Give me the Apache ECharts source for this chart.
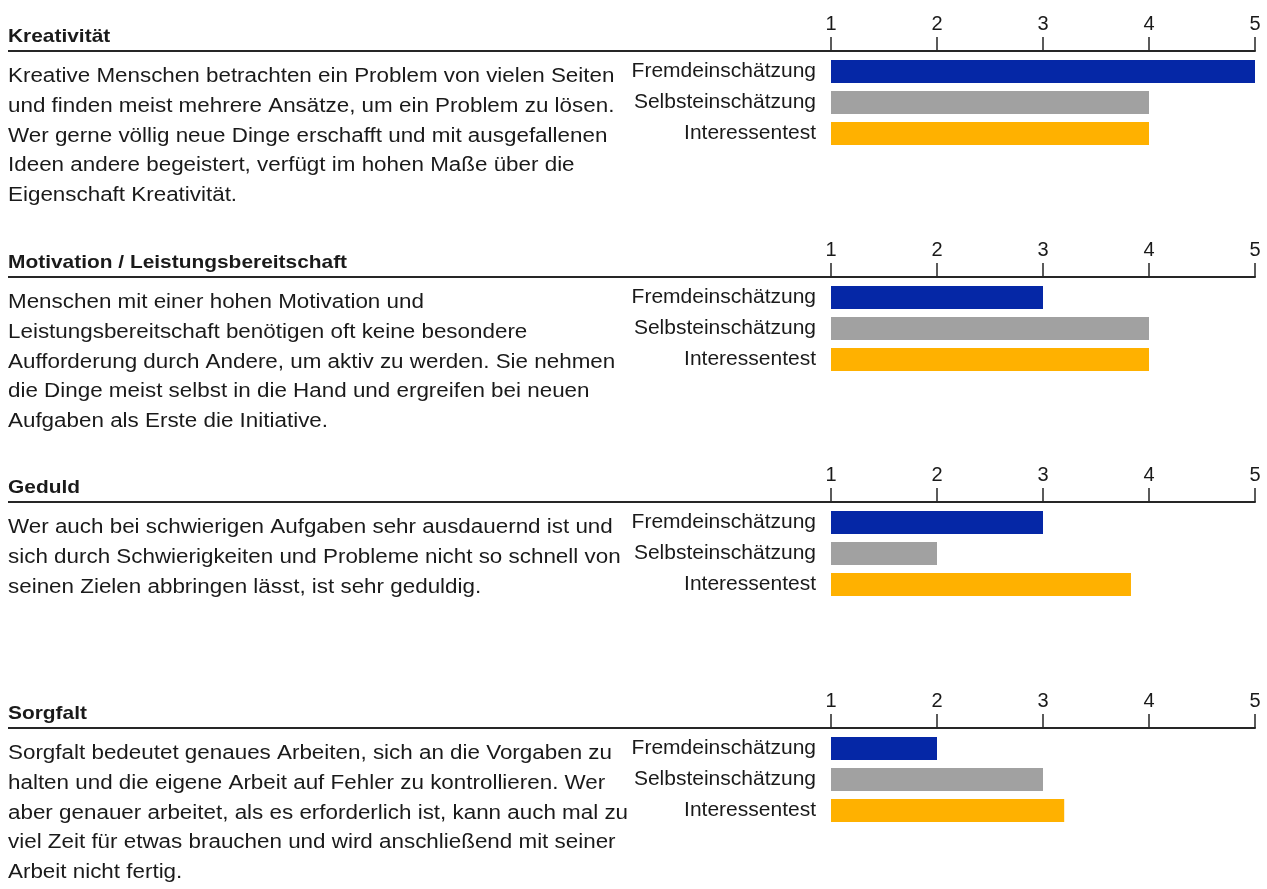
<!DOCTYPE html>
<html>
<head>
<meta charset="utf-8">
<script src="https://cdn.jsdelivr.net/npm/echarts@6/dist/echarts.min.js"></script>
<style>
html,body{margin:0;padding:0;background:#fff;}
#chart{width:1267px;height:889px;}
</style>
</head>
<body>
<div id="chart"></div>
<script>
// ---- data ----
const categories = ['Fremdeinschätzung', 'Selbsteinschätzung', 'Interessentest'];
const titles = ['Kreativität', 'Motivation / Leistungsbereitschaft', 'Geduld', 'Sorgfalt'];
const descriptions = [
  ['Kreative Menschen betrachten ein Problem von vielen Seiten',
   'und finden meist mehrere Ansätze, um ein Problem zu lösen.',
   'Wer gerne völlig neue Dinge erschafft und mit ausgefallenen',
   'Ideen andere begeistert, verfügt im hohen Maße über die',
   'Eigenschaft Kreativität.'],
  ['Menschen mit einer hohen Motivation und',
   'Leistungsbereitschaft benötigen oft keine besondere',
   'Aufforderung durch Andere, um aktiv zu werden. Sie nehmen',
   'die Dinge meist selbst in die Hand und ergreifen bei neuen',
   'Aufgaben als Erste die Initiative.'],
  ['Wer auch bei schwierigen Aufgaben sehr ausdauernd ist und',
   'sich durch Schwierigkeiten und Probleme nicht so schnell von',
   'seinen Zielen abbringen lässt, ist sehr geduldig.'],
  ['Sorgfalt bedeutet genaues Arbeiten, sich an die Vorgaben zu',
   'halten und die eigene Arbeit auf Fehler zu kontrollieren. Wer',
   'aber genauer arbeitet, als es erforderlich ist, kann auch mal zu',
   'viel Zeit für etwas brauchen und wird anschließend mit seiner',
   'Arbeit nicht fertig.']
];
const kreativitaet = [5, 4, 4];
const motivation = [3, 4, 4];
const geduld = [3, 2, 3.83];
const sorgfalt = [2, 3, 3.2];
const sectionValues = [kreativitaet, motivation, geduld, sorgfalt];
const tickMin = 1, tickMax = 5;

// ---- layout / style ----
const colors = ['#0527A6', '#A1A1A1', '#FFB100'];
const font = '"Liberation Sans", Arial, sans-serif';
const ink = '#1a1a1a';
const lineYs = [51, 277, 502, 728];
const axisOffset = 5;

const grids = [], xAxes = [], yAxes = [], series = [], graphics = [];
lineYs.forEach((ly, i) => {
  grids.push({ left: 831, right: 12, top: ly + axisOffset, height: 93, containLabel: false });
  xAxes.push({
    gridIndex: i, type: 'value', position: 'top', offset: axisOffset,
    min: tickMin, max: tickMax, interval: 1, startValue: tickMin,
    axisLine: { show: true, lineStyle: { color: '#262626', width: 2 } },
    axisTick: { show: true, length: 14, lineStyle: { color: '#262626', width: 1.5 } },
    axisLabel: { show: true, margin: 17, fontSize: 20, color: ink, fontFamily: font },
    splitLine: { show: false }
  });
  yAxes.push({
    gridIndex: i, type: 'category', data: categories, inverse: true,
    axisLine: { show: false }, axisTick: { show: false },
    axisLabel: { margin: 15, fontSize: 21, color: ink, fontFamily: font, padding: [0, 0, 4, 0] }
  });
  series.push({
    type: 'bar', xAxisIndex: i, yAxisIndex: i, barWidth: 23,
    data: sectionValues[i].map((v, k) => ({ value: v, itemStyle: { color: colors[k] } })),
    silent: true, animation: false
  });
  graphics.push({
    type: 'line', shape: { x1: 8, y1: ly, x2: 831, y2: ly },
    style: { stroke: '#262626', lineWidth: 2 }
  });
  graphics.push({
    type: 'text', x: 8, y: ly - 14.5, scaleX: 1.1,
    style: { text: titles[i], font: 'bold 19px ' + font, fill: ink, verticalAlign: 'middle', align: 'left' }
  });
  graphics.push({
    type: 'text', x: 8, y: ly + 11, scaleX: 1.12,
    style: { text: descriptions[i].join('\n'), font: '20px ' + font, fill: ink, lineHeight: 29.6, verticalAlign: 'top', align: 'left' }
  });
});

const chart = echarts.init(document.getElementById('chart'), null, { renderer: 'canvas' });
chart.setOption({
  animation: false,
  backgroundColor: '#ffffff',
  grid: grids, xAxis: xAxes, yAxis: yAxes, series: series,
  graphic: graphics
});
</script>
</body>
</html>
